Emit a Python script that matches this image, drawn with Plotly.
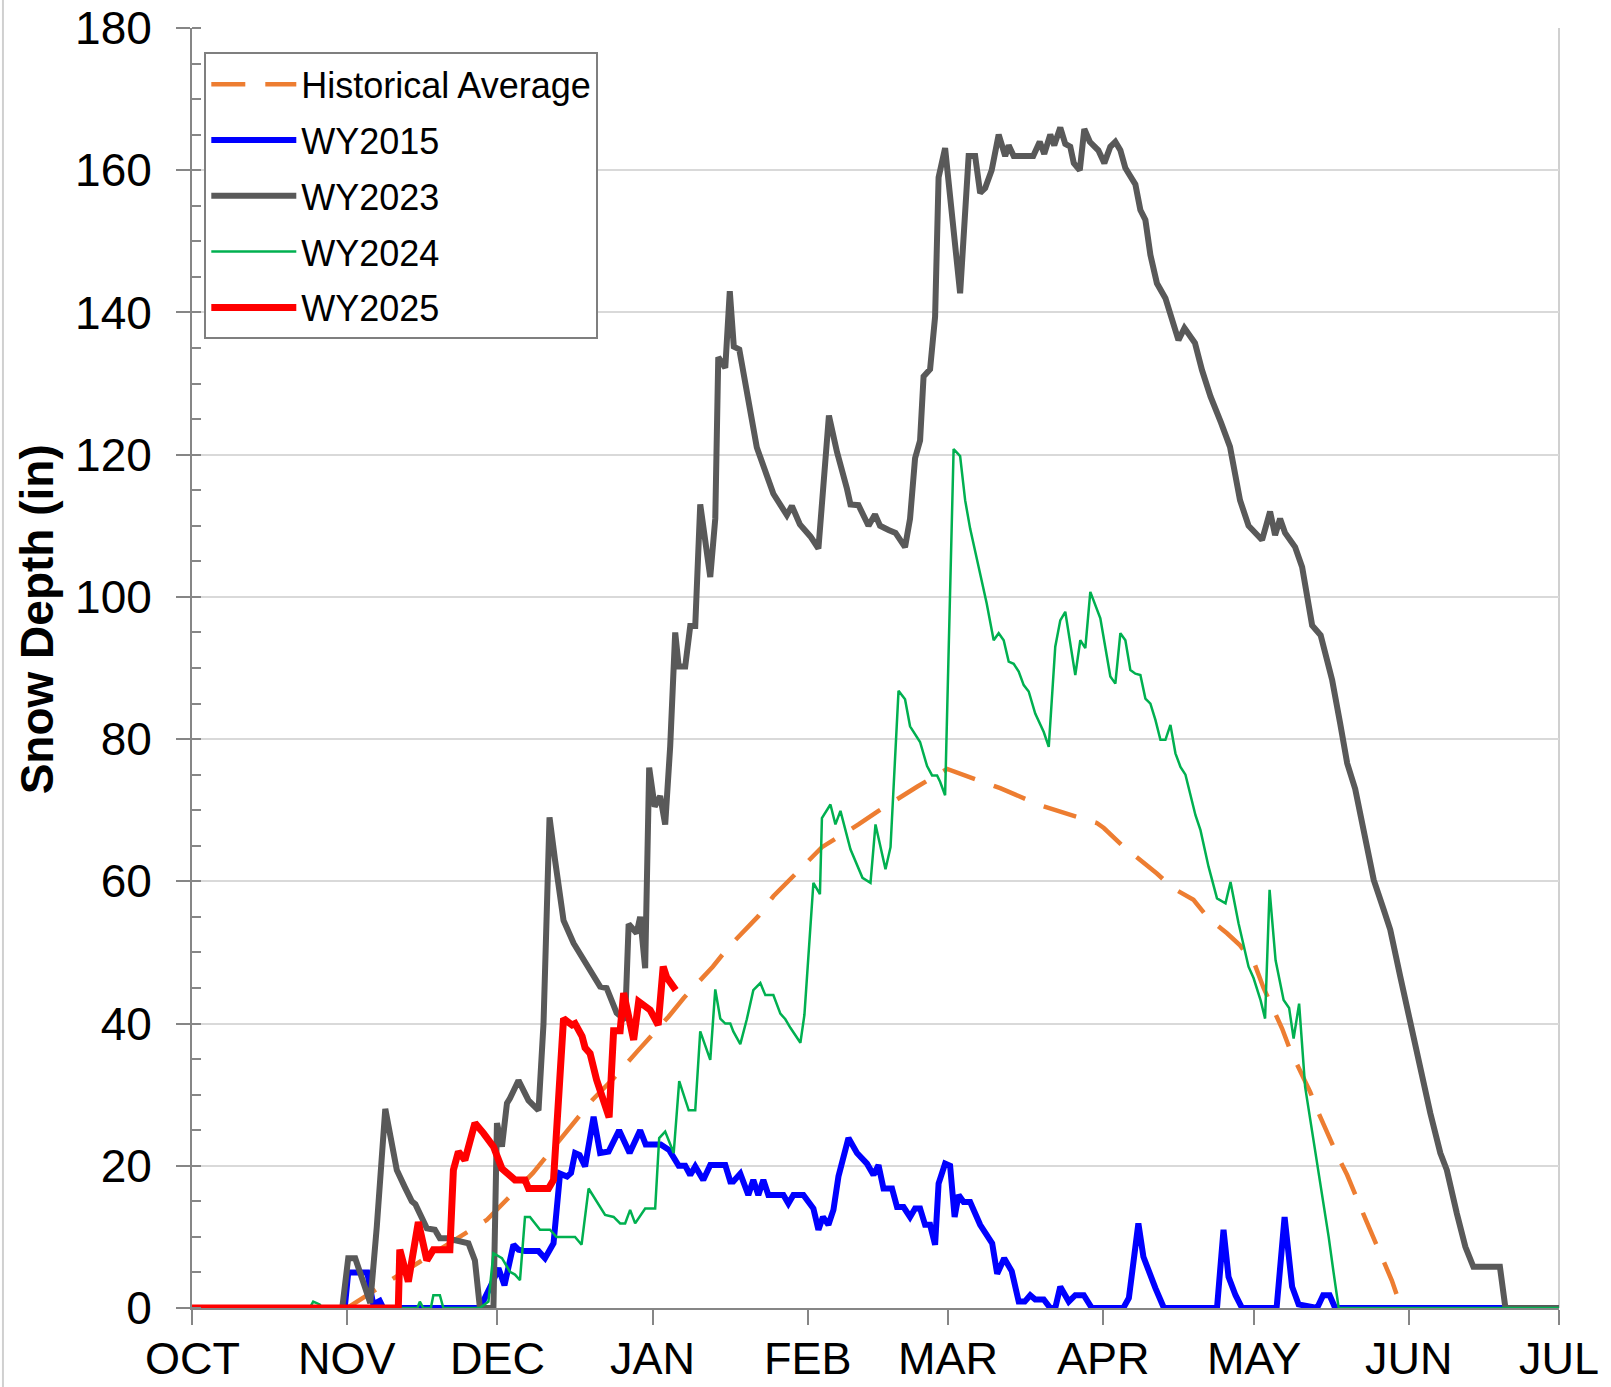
import plotly.graph_objects as go

# ---- axis categories (days since Oct 1 of the water year) ----
month_labels = ["OCT", "NOV", "DEC", "JAN", "FEB", "MAR", "APR", "MAY", "JUN", "JUL"]
month_start_day = [0, 31, 61, 92, 123, 151, 182, 212, 243, 273]
y_tick_vals = [0, 20, 40, 60, 80, 100, 120, 140, 160, 180]

# ---- Historical Average ----
hist_day = [31, 39.6, 58.9, 68.1, 80, 84.2, 89.2, 95.2, 98.2, 104, 107.1, 113.1, 116.1, 122.1,
            125.8, 133.1, 137.1, 144.8, 150.8, 156.7, 161.4, 169.4, 174.1, 180.7, 182.1, 185.7,
            192.7, 196, 200, 203, 206.7, 209.3, 212.3, 214, 217.7, 219.3, 223.3, 225, 228.7,
            230.7, 234.3, 236, 239.6, 241.5]
hist_val = [0, 3.9, 12.4, 19, 29.3, 32.3, 36.3, 41, 43.6, 48, 50.7, 55.1, 57.9, 62.3,
            64.8, 68, 69.9, 73.3, 75.8, 74.3, 73.1, 70.7, 69.6, 68.2, 67.5, 65.1,
            61.1, 59, 57.4, 54.8, 52.7, 51, 48.2, 45, 39.3, 36.3, 30.4, 27.4, 21.5,
            18.7, 12.6, 9.8, 3.9, 0]

# ---- WY2015 ----
wy2015_day = [0, 30.5, 31.2, 35, 36.2, 37.5, 38.2, 57.5, 60.2, 61.2, 62.4, 64.2, 65.2, 66.5, 69.2,
              70.5, 72.2, 72.8, 73.5, 74.9, 75.7, 76.5, 77.4, 78.5, 80.2, 81.5, 83.2, 85.3, 87.4,
              89.5, 90.6, 93.6, 95.3, 97.2, 98.5, 99.5, 100.5, 102.1, 103.5, 106.5, 107.5, 108.1,
              109.5, 111.1, 112.1, 113.1, 114.1, 115.1, 118.1, 119.1, 120.1, 122.1, 124.1, 125.1,
              126, 127.1, 128.1, 129.1, 131.1, 132.8, 134.8, 136.1, 137.1, 138.1, 139.8, 140.8,
              142.1, 143.4, 144.4, 145.4, 146.4, 147.4, 148.4, 149.1, 150.4, 151.4, 152.3, 153.1,
              154.1, 155.4, 156.8, 157.4, 159.8, 160.8, 162.2, 163.7, 165.1, 166.3, 167.4, 168.4,
              170.1, 171.4, 172.4, 173.4, 175.1, 176.4, 178.1, 179.7, 186, 187.1, 189, 190, 192.4,
              194.1, 204.7, 206, 207, 208.4, 209.7, 216.6, 218.2, 219.7, 221, 224.7, 225.9, 227.2,
              228.3, 273]
wy2015_val = [0, 0, 5, 5, 0.5, 1, 0, 0, 3.9, 5.6, 3.2, 8.9, 8.2, 8, 8,
              7, 9.1, 12.8, 18.9, 18.5, 19, 21.8, 21.5, 19.9, 26.9, 21.8, 22, 25, 21.8,
              25, 23, 23, 22.2, 20, 20, 18.7, 19.9, 18, 20.1, 20.1, 17.8, 17.8,
              18.9, 15.9, 18, 15.9, 18, 15.9, 15.9, 14.7, 15.9, 15.9, 14, 11,
              12.8, 11.7, 13.8, 18.5, 23.9, 21.8, 20.3, 18.7, 20.1, 16.8, 16.8, 14.2,
              14.2, 12.8, 14, 14, 11.7, 11.7, 8.9, 17.5, 20.3, 20, 12.8, 15.9,
              14.9, 14.9, 12.8, 11.7, 9.1, 4.8, 7, 5.2, 0.9, 0.9, 1.8, 1.2,
              1.2, 0, 0, 3, 0.9, 1.8, 1.8, 0, 0, 1.4, 11.9, 7.2, 2.8,
              0, 0, 11, 4.4, 1.8, 0, 0, 12.8, 3, 0.5, 0, 1.8, 1.8,
              0, 0]

# ---- WY2023 ----
wy2023_day = [0, 30, 31.2, 32.6, 35.6, 36.9, 38.6, 39.9, 40.9, 42.5, 43.9, 44.6, 46.9, 48.5, 49.5,
              50.9, 52.1, 55.2, 56.5, 57.5, 60.2, 60.9, 61.9, 62.9, 63.5, 65.2, 67.2, 69.2, 70.2,
              71.4, 72.5, 74.2, 76.2, 78.2, 80, 81.5, 82.8, 84.8, 86.5, 87.2, 88.8, 89.5, 90.5,
              91.3, 92.4, 93.5, 94.5, 95.5, 96.5, 97.2, 98.5, 99.5, 100.5, 101.5, 103.5, 104.5,
              105.1, 106.5, 107.4, 108.2, 109.3, 110.6, 112.8, 116.1, 118.8, 119.8, 121.4, 123.5,
              125.1, 127.2, 128.8, 130.8, 131.5, 133.1, 135.1, 136.4, 137.4, 139.1, 140.5, 142.4,
              143.4, 144.4, 145.4, 146.1, 147.4, 148.4, 149.1, 150.4, 153.4, 155.1, 156.4, 157.4,
              158.4, 159.7, 161.1, 162.4, 163.1, 164.1, 168, 169.3, 170.2, 171.4, 172.2, 173.4,
              174.4, 175.4, 176.1, 177.3, 178.2, 179.3, 181, 182.2, 183.4, 184.4, 185.4, 186.4,
              188.4, 189.4, 190.4, 191.4, 192.7, 194.4, 197, 198.2, 200.3, 201.7, 203.4, 205.5,
              207.3, 209.3, 211, 213.7, 215.3, 216.3, 217.3, 218.3, 220.3, 221.7, 223.7, 225.4,
              227.7, 229.3, 230.7, 232.3, 234.7, 236, 238, 239.3, 241.3, 243.3, 247.3, 249.3,
              250.6, 252.6, 254.3, 255.9, 261.2, 262.3, 273]
wy2023_val = [0, 0, 7, 7, 0.7, 11.4, 28, 23.2, 19.4, 17, 15, 14.6, 11.2, 11, 9.8,
              9.8, 9.6, 9.1, 6.7, 0, 0, 26, 22.7, 28.8, 29.5, 32, 29.2, 27.8, 40,
              69, 63, 54.5, 51.3, 48.9, 47, 45.2, 45, 41.5, 40.5, 54, 52.7, 55, 47.8,
              76, 70.5, 72, 68, 79, 95, 90.2, 90.2, 95.9, 95.9, 113, 102.8, 111,
              133.7, 132.2, 143, 135.2, 134.8, 129.6, 121, 114.5, 111.5, 112.8, 110.2, 108.5,
              106.8, 125.5, 120.4, 115.2, 113, 112.9, 110, 111.6, 110, 109.4, 109, 107,
              111, 119.5, 122, 131, 132, 139.4, 159, 163.1, 142.7, 162, 162, 156.8,
              157.5, 160, 165, 162, 163.5, 162, 162, 164, 162.3, 165, 163.5, 166,
              163.7, 163.3, 161, 160, 165.8, 164, 162.8, 161, 163.3, 164, 162.8, 160.3,
              158, 154.4, 153, 148.1, 144.1, 142, 136.1, 137.8, 135.7, 131.9, 128.2, 124.5,
              121.1, 113.6, 110, 108, 112, 108.7, 111, 109, 107, 104.2, 96, 94.6,
              88.3, 82.2, 76.6, 73, 64, 60.2, 56, 53.2, 46.6, 40, 27.4, 21.8,
              19.4, 13.3, 8.6, 5.8, 5.8, 0, 0]

# ---- WY2024 ----
wy2024_day = [0, 23.5, 24.2, 25.5, 26, 45, 45.5, 46.2, 47.7, 48.2, 49.5, 50.2, 57.5, 59.2, 60.2,
              61.9, 63.5, 64.5, 65.5, 66.5, 67.5, 69.5, 71.5, 72.8, 76.5, 77.8, 79.2, 82.5, 84.2,
              85.5, 86.5, 87.5, 88.5, 90.5, 92.5, 93.3, 94.5, 96.2, 97.3, 99.2, 100.5, 101.5,
              103.5, 104.5, 105.5, 106.5, 107.5, 108.1, 109.5, 110.8, 112.1, 113.5, 114.5, 116.1,
              117.5, 118.5, 119.5, 121.5, 122.3, 124.1, 125.4, 125.8, 127.5, 128.5, 129.5, 131.5,
              133.9, 135.5, 136.5, 138.5, 139.5, 141.1, 142.4, 143.4, 145.4, 146.8, 147.8, 148.8,
              149.4, 150.4, 152.1, 153.4, 154.4, 155.4, 157.1, 158.7, 160.1, 161.1, 162.1, 163.1,
              164.1, 165.1, 166.1, 167.1, 168.4, 169.4, 170.1, 171.1, 172.4, 173.4, 174.4, 176.4,
              177.4, 178.4, 179.4, 181.4, 183.4, 184.4, 185.4, 186.4, 187.4, 188.4, 189.4, 190.4,
              191.4, 192.4, 193.4, 194.4, 195.4, 196.4, 197.4, 198.4, 200.4, 201.4, 203, 204.7,
              206.4, 207.4, 209, 211, 212, 213.4, 214.3, 215.2, 216.4, 218, 219.1, 220, 221.1,
              222.3, 224, 225.3, 227, 228, 229, 273]
wy2024_val = [0, 0, 0.9, 0.5, 0, 0, 0.9, 0, 0, 1.8, 1.8, 0, 0, 0.9, 7.7,
              7, 5.1, 4.7, 3.9, 12.8, 12.8, 11, 11, 10, 10, 8.9, 16.8, 13.1, 12.8,
              11.9, 11.9, 13.8, 11.9, 14, 14, 23.9, 24.8, 21.8, 31.9, 27.8, 27.8, 38.9,
              34.9, 44.8, 40.7, 40, 40, 38.9, 37.1, 40.6, 44.7, 45.7, 44, 44,
              41.4, 40.6, 39.4, 37.3, 41.2, 59.8, 58.2, 68.9, 70.8, 68, 69.9, 64.5,
              60.5, 59.8, 68, 61.7, 64.8, 86.8, 85.6, 81.8, 79.6, 76.2, 74.9, 74.9,
              74, 72.1, 120.8, 119.8, 113.6, 109.6, 104.2, 99.1, 93.9, 94.9, 93.9, 90.9,
              90.6, 89.5, 87.6, 86.7, 83.6, 82, 81, 78.9, 93, 96.7, 97.9, 89,
              93.9, 92.8, 100.7, 97, 88.8, 87.8, 94.9, 93.9, 89.7, 89.2, 89, 85.7,
              85, 82.7, 79.9, 79.9, 82, 78, 76.1, 75, 69.3, 67.2, 62.1, 57.6,
              56.9, 59.9, 54.1, 48, 46.4, 43.3, 40.7, 58.8, 48.9, 43.3, 42.2, 37.9, 42.8,
              31.1, 23.6, 18, 10, 4.9, 0, 0]

# ---- WY2025 ----
wy2025_day = [0, 41.2, 41.5, 43.2, 45.2, 46.9, 48.2, 51.5, 52.2, 53.2, 54.5, 56.5, 58.2, 60.2,
              61.9, 63.5, 64.5, 66.5, 67.2, 71.2, 72.2, 74.2, 75.9, 76.5, 77.9, 78.5, 79.5, 80.8,
              83.3, 84.2, 85.5, 86.2, 88.2, 89.2, 91.5, 93.1, 94.1, 94.8, 96.6]
wy2025_val = [0, 0, 8.2, 3.7, 12.1, 6.7, 8.2, 8.2, 19.4, 22, 20.8, 26, 24.6, 22.7,
              19.6, 18.7, 18, 18, 16.8, 16.8, 18, 40.7, 39.8, 40, 38.2, 36.6, 35.8, 32.1,
              26.8, 39, 39, 44.3, 37.7, 43.1, 41.9, 39.8, 48, 46.5, 44.7]

FONT = "Liberation Sans, Arial, sans-serif"
AXIS_GRAY = "#868686"

fig = go.Figure()

series = [
    ("Historical Average", hist_day, hist_val, "#ED7D31", 4.5, "34px,20px"),
    ("WY2015", wy2015_day, wy2015_val, "#0000FF", 6, "solid"),
    ("WY2023", wy2023_day, wy2023_val, "#595959", 6, "solid"),
    ("WY2024", wy2024_day, wy2024_val, "#00B050", 2.5, "solid"),
    ("WY2025", wy2025_day, wy2025_val, "#FF0000", 7, "solid"),
]
for name, xs, ys, color, width, dash in series:
    fig.add_trace(go.Scatter(
        x=xs, y=ys, mode="lines", name=name, legendgroup=name,
        line=dict(color=color, width=width, dash=dash),
        cliponaxis=False, hoverinfo="skip",
    ))

# month labels under the x-axis ticks, placed at the tick positions of the x scale
month_annotations = [
    dict(text=lab, xref="x", yref="paper", x=d, y=-0.0398, xanchor="center", yanchor="middle",
         showarrow=False, font=dict(family=FONT, size=45, color="black"))
    for lab, d in zip(month_labels, month_start_day)
]

fig.update_layout(
    width=1611, height=1387,
    margin=dict(l=192, r=52, t=28, b=79),
    paper_bgcolor="white", plot_bgcolor="white",
    font=dict(family=FONT, color="black"),
    showlegend=True,
    legend=dict(
        x=0.009, y=0.981, xanchor="left", yanchor="top",
        bgcolor="white", bordercolor="#7f7f7f", borderwidth=2,
        font=dict(family=FONT, size=36, color="black"),
        tracegroupgap=6, itemwidth=85, traceorder="grouped",
    ),
    xaxis=dict(
        range=[0, 273], tickmode="array", tickvals=month_start_day, ticktext=month_labels,
        showticklabels=False,
        showgrid=False, zeroline=False, showline=True, linecolor=AXIS_GRAY, linewidth=2,
        ticks="outside", ticklen=15, tickwidth=2, tickcolor=AXIS_GRAY,
        automargin=False,
    ),
    yaxis=dict(
        range=[0, 180], tickmode="array", tickvals=y_tick_vals,
        showgrid=True, gridcolor="#d9d9d9", gridwidth=2, zeroline=False,
        showline=True, linecolor=AXIS_GRAY, linewidth=2,
        ticks="outside", ticklen=14, tickwidth=2, tickcolor=AXIS_GRAY,
        tickfont=dict(family=FONT, size=46, color="black"), ticklabelstandoff=15,
        minor=dict(dtick=5, tick0=0, ticks="inside", ticklen=9, tickwidth=2,
                   tickcolor=AXIS_GRAY, showgrid=False),
        automargin=False,
    ),
    annotations=[
        dict(text="Snow Depth (in)", xref="paper", yref="paper", x=-0.1134, y=0.538,
             xanchor="center", yanchor="middle", textangle=-90, showarrow=False,
             font=dict(family=FONT, size=46, color="black", weight="bold")),
    ] + month_annotations,
    shapes=[
        dict(type="line", xref="paper", yref="paper", x0=1, x1=1, y0=0, y1=1,
             line=dict(color="#d0d0d0", width=2), layer="below"),
        dict(type="line", xref="paper", yref="paper", x0=-0.1383, x1=-0.1383, y0=-0.062, y1=1.022,
             line=dict(color="#d0d0d0", width=2)),
    ],
)

fig.write_html("out.html", config={"displayModeBar": False},
               post_script="document.body.style.margin='0';")
